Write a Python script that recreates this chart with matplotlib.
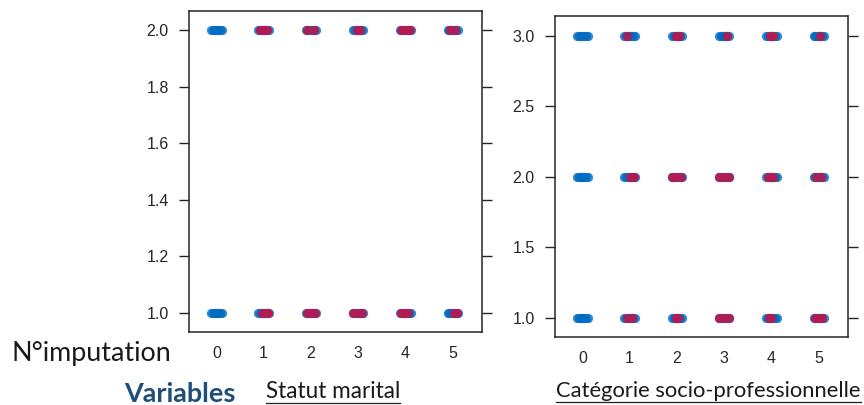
import matplotlib
matplotlib.use('Agg')
import matplotlib.pyplot as plt
from matplotlib.lines import Line2D

# ---------------- data ----------------
imputations = [0, 1, 2, 3, 4, 5]
imputation_labels = ['0', '1', '2', '3', '4', '5']

statut_levels = [1.0, 2.0]
statut_yticks = [1.0, 1.2, 1.4, 1.6, 1.8, 2.0]
csp_levels = [1.0, 2.0, 3.0]
csp_yticks = [1.0, 1.5, 2.0, 2.5, 3.0]

# horizontal jitter of the observed (blue) points
observed_jitter = [-0.11, -0.07, -0.035, 0.0, 0.035, 0.07, 0.11]

# jitter of imputed (red) points, per level, for imputations 1..5
statut_imputed = {
    2.0: [[-0.08, 0.0, 0.08], [-0.08, 0.06], [-0.03, 0.03], [-0.1, -0.02, 0.06, 0.1], [-0.06, 0.04]],
    1.0: [[-0.04, 0.06, 0.1], [-0.08, 0.0, 0.08], [-0.1, 0.0, 0.08], [-0.1, -0.02, 0.05], [0.02, 0.1]],
}
csp_imputed = {
    3.0: [[-0.06], [-0.02, 0.04], [0.05], [-0.03, 0.03], [0.03]],
    2.0: [[0.0, 0.1], [-0.1, -0.02, 0.09], [-0.1, 0.0, 0.1], [-0.08, 0.0, 0.03], [-0.05, 0.05]],
    1.0: [[-0.06, 0.05], [-0.03, 0.02], [-0.1, 0.0, 0.1], [-0.06, 0.0], [-0.08, 0.0, 0.08]],
}

x_label = 'N°imputation'
variables_label = 'Variables'
panel_names = ['Statut marital', 'Catégorie socio-professionnelle']

# ---------------- style ----------------
BLUE = '#006CC2'
RED = '#B61A51'
W, H = 864, 405
fig = plt.figure(figsize=(W / 100, H / 100), dpi=100)

def frac_box(x0, y0, x1, y1):
    return [x0 / W, 1 - y1 / H, (x1 - x0) / W, (y1 - y0) / H]

TICK_COLOR = '#262626'
MS = 44

def draw_panel(ax, levels, imputed, yticks, ylim):
    for i in imputations:
        for lev in levels:
            ax.scatter([i + j for j in observed_jitter], [lev] * len(observed_jitter),
                       s=MS, color=BLUE, alpha=0.8, linewidths=0, zorder=2)
    for lev in levels:
        for k, offs in enumerate(imputed[lev]):
            i = imputations[k + 1]
            ax.scatter([i + j for j in offs], [lev] * len(offs),
                       s=MS, color=RED, alpha=0.9, linewidths=0, zorder=3)
    ax.set_xlim(-0.58, 5.62)
    ax.set_ylim(*ylim)
    ax.set_xticks(imputations)
    ax.set_xticklabels(imputation_labels)
    ax.set_yticks(yticks)
    ax.set_yticklabels([f'{v:.1f}' for v in yticks])
    ax.tick_params(axis='x', length=0, pad=10, labelsize=11.5, labelcolor=TICK_COLOR)
    ax.tick_params(axis='y', direction='out', length=7.5, width=1.0, color=TICK_COLOR,
                   pad=7, labelsize=11.5, labelcolor=TICK_COLOR, right=True)
    for s in ax.spines.values():
        s.set_color(TICK_COLOR)
        s.set_linewidth(1.1)
    for lab in ax.get_xticklabels() + ax.get_yticklabels():
        lab.set_family('Liberation Sans')

ax1 = fig.add_axes(frac_box(189, 11, 482, 332))
draw_panel(ax1, statut_levels, statut_imputed, statut_yticks, (0.933, 2.067))
ax2 = fig.add_axes(frac_box(555, 16, 848, 337))
draw_panel(ax2, csp_levels, csp_imputed, csp_yticks, (0.865, 3.14))

# ---------------- bottom texts ----------------
def fitted_text(x0, yc, x1, s, underline=False, **kw):
    t = fig.text(x0 / W, 1 - yc / H, s, ha='left', va='center', fontsize=14, **kw)
    r = fig.canvas.get_renderer()
    bb = t.get_window_extent(r)
    t.set_fontsize(14 * (x1 - x0) / bb.width)
    if underline:
        bb = t.get_window_extent(r)
        y = bb.y0 - 1
        fig.add_artist(Line2D([bb.x0 / W, bb.x1 / W], [y / H, y / H],
                              transform=fig.transFigure, color='#222222', lw=0.9))
    return t

fitted_text(12, 353, 172, x_label, family='Lato', color='#1a1a1a')
fitted_text(124, 394, 236, variables_label, family='Lato', weight='bold', color='#1F4E79')
fitted_text(266, 391, 400, panel_names[0], underline=True, family='Lato', color='#1a1a1a')
fitted_text(556, 391, 862, panel_names[1], underline=True, family='Lato', color='#1a1a1a')

fig.savefig('out.png', dpi=100)
